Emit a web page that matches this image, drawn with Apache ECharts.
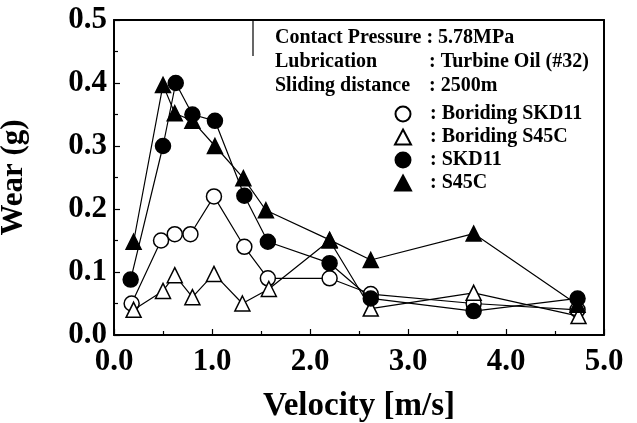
<!DOCTYPE html>
<html>
<head>
<meta charset="utf-8">
<script src="https://cdn.jsdelivr.net/npm/echarts@6/dist/echarts.min.js"></script>
<style>
  html, body { margin: 0; padding: 0; background: #fff; }
  #chart { width: 637px; height: 423px; }
</style>
</head>
<body>
<div id="chart"></div>
<script>
// Wear vs sliding velocity for borided and untreated steels
const seriesNames = ['Boriding SKD11', 'Boriding S45C', 'SKD11', 'S45C'];

const boridingSKD11 = [[0.18, 0.05], [0.48, 0.15], [0.62, 0.16], [0.78, 0.16], [1.02, 0.22], [1.33, 0.14], [1.57, 0.09], [2.2, 0.09], [2.62, 0.065], [3.67, 0.05], [4.73, 0.04]];
const boridingS45C = [[0.2, 0.04], [0.5, 0.07], [0.62, 0.095], [0.8, 0.06], [1.02, 0.097], [1.31, 0.05], [1.58, 0.073], [2.2, 0.15], [2.62, 0.042], [3.67, 0.067], [4.74, 0.03]];
const skd11 = [[0.17, 0.088], [0.5, 0.3], [0.63, 0.4], [0.8, 0.35], [1.03, 0.34], [1.33, 0.221], [1.57, 0.148], [2.2, 0.114], [2.62, 0.058], [3.67, 0.038], [4.73, 0.058]];
const s45c = [[0.2, 0.148], [0.5, 0.397], [0.62, 0.352], [0.8, 0.34], [1.03, 0.3], [1.32, 0.249], [1.55, 0.198], [2.2, 0.151], [2.62, 0.119], [3.67, 0.161], [4.73, 0.048]];

const xTicks = { min: 0, max: 5, step: 1 };
const yTicks = { min: 0, max: 0.5, step: 0.1 };

const infoLines = [
  ['Contact Pressure : 5.78MPa', ''],
  ['Lubrication', ': Turbine Oil (#32)'],
  ['Sliding distance', ': 2500m']
];

const FONT = '"Liberation Serif", "DejaVu Serif", serif';
const chart = echarts.init(document.getElementById('chart'));

const styles = [
  { symbol: 'circle', fill: '#fff', size: 15 },
  { symbol: 'triangle', fill: '#fff', size: 15 },
  { symbol: 'circle', fill: '#000', size: 15 },
  { symbol: 'triangle', fill: '#000', size: 15 }
];
const dataSets = [boridingSKD11, boridingS45C, skd11, s45c];

const series = dataSets.map((d, i) => ({
  name: seriesNames[i],
  type: 'line',
  data: d,
  symbol: styles[i].symbol,
  symbolSize: styles[i].size,
  z: 2 + i,
  lineStyle: { color: '#000', width: 1.2 },
  itemStyle: { color: styles[i].fill, borderColor: '#000', borderWidth: 1.5 },
  emphasis: { disabled: true },
  animation: false
}));

// Framed top / right edges of the plot
series.push({
  type: 'line', data: [], xAxisIndex: 1, yAxisIndex: 1, silent: true
});

const graphics = [];
infoLines.forEach((ln, i) => {
  graphics.push({
    type: 'text', left: 275, top: 28 + i * 24,
    style: { text: ln[0], font: 'bold 20px ' + FONT, fill: '#000' }
  });
  if (ln[1]) {
    graphics.push({
      type: 'text', left: 429, top: 28 + i * 24,
      style: { text: ln[1], font: 'bold 20px ' + FONT, fill: '#000' }
    });
  }
});
graphics.push({
  type: 'line', shape: { x1: 253, y1: 20, x2: 253, y2: 56 },
  style: { stroke: '#000', lineWidth: 1.2 }
});

chart.setOption({
  animation: false,
  backgroundColor: '#fff',
  grid: { left: 114, right: 33, top: 20, bottom: 88, containLabel: false, outerBoundsMode: 'none' },
  legend: {
    orient: 'vertical',
    left: 389, top: 99,
    itemWidth: 16, itemHeight: 15, itemGap: 3,
    data: seriesNames.map((n, i) => ({ name: n, icon: styles[i].symbol })),
    formatter: n => ': ' + n,
    textStyle: { fontFamily: FONT, fontWeight: 'bold', fontSize: 20, color: '#000', padding: [0, 0, 0, 14] },
    inactiveColor: '#000',
    selectedMode: false
  },
  xAxis: [{
    type: 'value', min: xTicks.min, max: xTicks.max, interval: xTicks.step,
    name: 'Velocity [m/s]', nameLocation: 'middle', nameGap: 55,
    nameTextStyle: { fontFamily: FONT, fontWeight: 'bold', fontSize: 33, color: '#000' },
    axisLine: { show: true, lineStyle: { color: '#000', width: 2 } },
    axisTick: { show: true, inside: true, length: 6, lineStyle: { color: '#000', width: 1.2 } },
    minorTick: { show: true, splitNumber: 2, length: 4, lineStyle: { color: '#000', width: 1.2 } },
    splitLine: { show: false },
    axisLabel: { margin: 11, formatter: v => v.toFixed(1), fontFamily: FONT, fontWeight: 'bold', fontSize: 31, color: '#000' }
  }, {
    type: 'value', min: xTicks.min, max: xTicks.max, position: 'top',
    axisLine: { show: true, onZero: false, lineStyle: { color: '#000', width: 2 } },
    axisTick: { show: false }, axisLabel: { show: false }, splitLine: { show: false }
  }],
  yAxis: [{
    type: 'value', min: yTicks.min, max: yTicks.max, interval: yTicks.step,
    name: 'Wear (g)', nameLocation: 'middle', nameGap: 85, nameRotate: 90,
    nameTextStyle: { fontFamily: FONT, fontWeight: 'bold', fontSize: 31, color: '#000' },
    axisLine: { show: true, lineStyle: { color: '#000', width: 2 } },
    axisTick: { show: true, inside: true, length: 6, lineStyle: { color: '#000', width: 1.2 } },
    minorTick: { show: true, splitNumber: 2, length: 4, lineStyle: { color: '#000', width: 1.2 } },
    splitLine: { show: false },
    axisLabel: { margin: 7, formatter: v => v.toFixed(1), fontFamily: FONT, fontWeight: 'bold', fontSize: 31, color: '#000' }
  }, {
    type: 'value', min: yTicks.min, max: yTicks.max, position: 'right',
    axisLine: { show: true, onZero: false, lineStyle: { color: '#000', width: 2 } },
    axisTick: { show: false }, axisLabel: { show: false }, splitLine: { show: false }
  }],
  series: series,
  graphic: graphics
});
</script>
</body>
</html>
